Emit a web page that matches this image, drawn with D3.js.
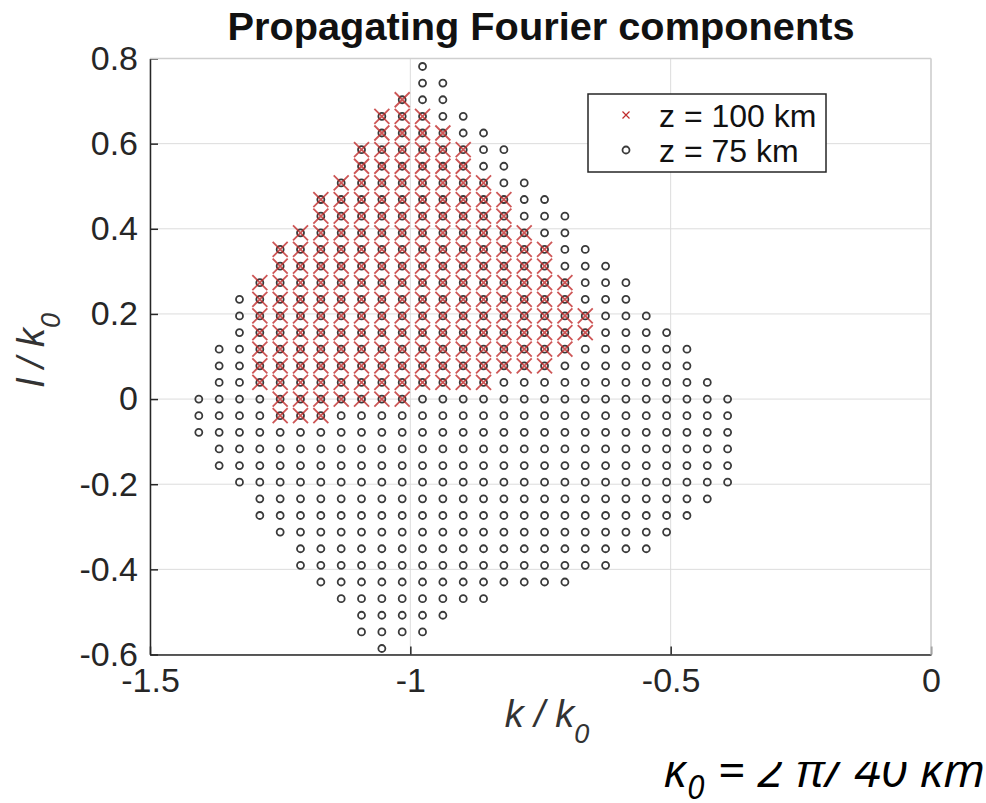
<!DOCTYPE html>
<html><head><meta charset="utf-8">
<script src="https://cdn.jsdelivr.net/npm/d3@7"></script>
<style>body{margin:0;background:#fff;} svg{display:block;}</style>
</head><body>
<svg id="chart" width="986" height="803"></svg>
<script>
// grid spacing of the Fourier components, in units of k0
const gridStep = 40 / 1024;

// z = 75 km (circles): row index (l / gridStep) and first/last column index (k / gridStep)
const circleRows = [20,19,18,17,16,15,14,13,12,11,10,9,8,7,6,5,4,3,2,1,0,-1,-2,-3,-4,-5,-6,-7,-8,-9,-10,-11,-12,-13,-14,-15];
const circleFrom = [-25,-25,-26,-27,-27,-28,-28,-29,-30,-30,-31,-32,-32,-33,-34,-34,-34,-35,-35,-35,-36,-36,-36,-35,-35,-34,-33,-33,-32,-31,-31,-30,-29,-28,-28,-27];
const circleTo   = [-25,-24,-24,-23,-22,-21,-21,-20,-19,-18,-18,-17,-16,-15,-15,-14,-13,-12,-12,-11,-10,-10,-10,-10,-10,-10,-11,-12,-13,-14,-16,-18,-22,-24,-25,-27];

// z = 100 km (crosses)
const crossRows = [18,17,16,15,14,13,12,11,10,9,8,7,6,5,4,3,2,1,0,-1];
const crossFrom = [-26,-27,-27,-28,-28,-29,-30,-30,-31,-32,-32,-33,-33,-33,-33,-33,-33,-33,-32,-32];
const crossTo   = [-26,-25,-24,-23,-23,-22,-21,-21,-20,-19,-19,-18,-18,-17,-17,-18,-19,-22,-26,-30];

const xTicks = [-1.5, -1, -0.5, 0];
const xTickLabels = ["-1.5", "-1", "-0.5", "0"];
const yTicks = [0.8, 0.6, 0.4, 0.2, 0, -0.2, -0.4, -0.6];
const yTickLabels = ["0.8", "0.6", "0.4", "0.2", "0", "-0.2", "-0.4", "-0.6"];
const seriesNames = ["z = 100 km", "z = 75 km"];
const titleText = "Propagating Fourier components";

function expand(rows, from, to) {
  const pts = [];
  rows.forEach((r, idx) => {
    for (let i = from[idx]; i <= to[idx]; i++) pts.push({k: i * gridStep, l: r * gridStep});
  });
  return pts;
}
const circles = expand(circleRows, circleFrom, circleTo);
const crosses = expand(crossRows, crossFrom, crossTo);

const svg = d3.select("#chart");
const x = d3.scaleLinear().domain([-1.5, 0]).range([150, 931]);
const y = d3.scaleLinear().domain([-0.6, 0.8]).range([654.5, 58.5]);
const FONT = "'Liberation Sans', Arial, Helvetica, sans-serif";
const RED = "#c02c2c";

// grid
const grid = svg.append("g").attr("stroke", "#dcdcdc").attr("stroke-width", 1);
grid.selectAll("line.gx").data(xTicks).join("line")
  .attr("x1", d => x(d)).attr("x2", d => x(d)).attr("y1", y(0.8)).attr("y2", y(-0.6));
grid.selectAll("line.gy").data(yTicks).join("line")
  .attr("y1", d => y(d)).attr("y2", d => y(d)).attr("x1", x(-1.5)).attr("x2", x(0));

// markers
const cross = (cx, cy, h) => `M${cx-h},${cy-h}L${cx+h},${cy+h}M${cx-h},${cy+h}L${cx+h},${cy-h}`;
svg.append("g").selectAll("circle").data(circles).join("circle")
  .attr("cx", d => x(d.k)).attr("cy", d => y(d.l)).attr("r", 3.5)
  .attr("fill", "none").attr("stroke", "#3a3a3a").attr("stroke-width", 1.8);
svg.append("g").selectAll("path").data(crosses).join("path")
  .attr("d", d => cross(x(d.k), y(d.l), 7.5))
  .attr("fill", "none").attr("stroke", RED).attr("stroke-width", 1.8).attr("stroke-opacity", 0.8);

// axes
const xAxis = d3.axisBottom(x).tickValues(xTicks).tickFormat((d, i) => xTickLabels[i])
  .tickSizeInner(-8).tickSizeOuter(0).tickPadding(12);
const gx = svg.append("g").attr("transform", `translate(0,${y(-0.6)})`).call(xAxis);
const yAxis = d3.axisLeft(y).tickValues(yTicks).tickFormat((d, i) => yTickLabels[i])
  .tickSizeInner(-8).tickSizeOuter(0).tickPadding(12);
const gy = svg.append("g").attr("transform", `translate(${x(-1.5)},0)`).call(yAxis);
[gx, gy].forEach(g => {
  g.select(".domain").attr("stroke", "#262626").attr("stroke-width", 1.5);
  g.selectAll(".tick line").attr("stroke", "#262626").attr("stroke-width", 1.5);
  g.selectAll(".tick text").attr("fill", "#262626").style("font-family", FONT).style("font-size", "34px");
});
gx.selectAll(".tick text").attr("dy", "0.76em");
// top/right box lines
svg.append("line").attr("x1", x(-1.5)).attr("x2", x(0)).attr("y1", y(0.8)).attr("y2", y(0.8))
  .attr("stroke", "#cfcfcf").attr("stroke-width", 1.5);
svg.append("line").attr("x1", x(0)).attr("x2", x(0)).attr("y1", y(0.8)).attr("y2", y(-0.6))
  .attr("stroke", "#cfcfcf").attr("stroke-width", 1.5);

// title
svg.append("text").attr("x", 541).attr("y", 40).attr("text-anchor", "middle")
  .attr("textLength", 627).attr("lengthAdjust", "spacingAndGlyphs")
  .style("font-family", FONT).style("font-weight", "bold").style("font-size", "39px")
  .attr("fill", "#111").text(titleText);

// x label
const xl = svg.append("text").attr("x", 547).attr("y", 727).attr("text-anchor", "middle")
  .style("font-family", FONT).style("font-style", "italic").style("font-size", "38px").attr("fill", "#333");
xl.append("tspan").text("k / k");
xl.append("tspan").attr("dy", 16).style("font-size", "27px").text("0");

// y label
const yl = svg.append("text").attr("transform", "translate(44,350) rotate(-90)").attr("text-anchor", "middle")
  .style("font-family", FONT).style("font-style", "italic").style("font-size", "38px").attr("fill", "#333");
yl.append("tspan").text("l / k");
yl.append("tspan").attr("dy", 16).style("font-size", "27px").text("0");

// legend
const lg = svg.append("g");
lg.append("rect").attr("x", 588).attr("y", 94).attr("width", 238).attr("height", 78)
  .attr("fill", "#fff").attr("stroke", "#262626").attr("stroke-width", 1.5);
lg.append("path").attr("d", cross(626, 115, 3.5)).attr("stroke", RED).attr("stroke-width", 1.2).attr("fill", "none");
lg.append("circle").attr("cx", 626).attr("cy", 150).attr("r", 3.5).attr("fill", "none")
  .attr("stroke", "#3a3a3a").attr("stroke-width", 1.8);
lg.selectAll("text").data(seriesNames).join("text")
  .attr("x", 659).attr("y", (d, i) => 115 + i * 35).attr("dy", "0.36em")
  .style("font-family", FONT).style("font-size", "32px").attr("fill", "#111").text(d => d);

// note (top part clipped as in the reference)
svg.append("clipPath").attr("id", "noteclip").append("rect")
  .attr("x", 600).attr("y", 762).attr("width", 386).attr("height", 60);
const nt = svg.append("text").attr("x", 985).attr("y", 787).attr("text-anchor", "end")
  .attr("clip-path", "url(#noteclip)")
  .style("font-family", "'Open Sans', sans-serif").style("font-style", "italic")
  .style("font-size", "48px").attr("fill", "#000");
nt.append("tspan").text("k");
nt.append("tspan").attr("dy", 12).style("font-size", "32px").text("0");
nt.append("tspan").attr("dy", -12).text(" = 2 π/ 40 km");
</script>
</body></html>
